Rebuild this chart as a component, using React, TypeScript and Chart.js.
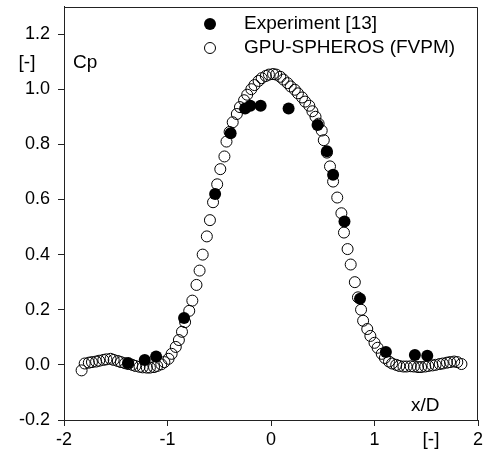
import React, { useEffect, useRef } from "react";
import { Chart, registerables } from "chart.js";

Chart.register(...registerables);

// Experiment [13]
const expX = [-1.38, -1.22, -1.11, -0.84, -0.54, -0.39, -0.25, -0.2, -0.1, 0.17, 0.45, 0.54, 0.6, 0.71, 0.86, 1.11, 1.39, 1.51];
const expY = [0.007, 0.018, 0.03, 0.17, 0.62, 0.84, 0.93, 0.94, 0.94, 0.93, 0.87, 0.775, 0.69, 0.52, 0.24, 0.047, 0.036, 0.033];

// GPU-SPHEROS (FVPM)
const simX = [
  -1.83, -1.8, -1.76, -1.73, -1.69, -1.66, -1.62, -1.59, -1.55, -1.52,
  -1.48, -1.45, -1.41, -1.38, -1.34, -1.31, -1.27, -1.24, -1.2, -1.17,
  -1.13, -1.1, -1.06, -1.03, -0.99, -0.96, -0.92, -0.89, -0.86, -0.83,
  -0.79, -0.76, -0.72, -0.69, -0.66, -0.62, -0.59, -0.56, -0.52, -0.49,
  -0.45, -0.43, -0.4, -0.37, -0.33, -0.3, -0.26, -0.23, -0.19, -0.16,
  -0.12, -0.09, -0.05, -0.02, 0.02, 0.05, 0.09, 0.12, 0.16, 0.19,
  0.23, 0.26, 0.3, 0.33, 0.37, 0.4, 0.43, 0.46, 0.49, 0.51,
  0.54, 0.57, 0.6, 0.64, 0.68, 0.705, 0.74, 0.77, 0.81, 0.84,
  0.87, 0.89, 0.93, 0.96, 1.0, 1.03, 1.07, 1.1, 1.14, 1.17,
  1.21, 1.24, 1.28, 1.31, 1.35, 1.38, 1.42, 1.45, 1.49, 1.52,
  1.56, 1.59, 1.63, 1.66, 1.7, 1.73, 1.77, 1.8, 1.84
];
const simY = [
  -0.02, 0.005, 0.008, 0.01, 0.012, 0.015, 0.018, 0.02, 0.022, 0.018,
  0.014, 0.01, 0.006, 0.003, 0.0, -0.004, -0.007, -0.009, -0.01, -0.01,
  -0.008, -0.004, 0.002, 0.01, 0.022, 0.04, 0.065, 0.09, 0.12, 0.155,
  0.196, 0.233, 0.29, 0.342, 0.4, 0.466, 0.525, 0.59, 0.655, 0.71,
  0.756, 0.81, 0.845, 0.88, 0.91, 0.935, 0.96, 0.98, 1.0, 1.015,
  1.03, 1.04, 1.048, 1.053, 1.055, 1.053, 1.045, 1.035, 1.022, 1.01,
  0.998, 0.985, 0.97, 0.955, 0.94, 0.92, 0.9, 0.875, 0.85, 0.815,
  0.77, 0.72, 0.665, 0.607, 0.55, 0.48, 0.42, 0.364, 0.3, 0.245,
  0.2, 0.16, 0.13, 0.105, 0.08, 0.062, 0.04, 0.025, 0.012, 0.005,
  0.0, -0.004, -0.006, -0.006, -0.005, -0.006, -0.008, -0.008, -0.006, -0.004,
  -0.002, 0.0, 0.003, 0.005, 0.008, 0.01, 0.012, 0.01, 0.003
];

const xTicks = [-2, -1, 0, 1, 2];
const yTicks = [-0.2, 0.0, 0.2, 0.4, 0.6, 0.8, 1.0, 1.2];
const legendLabels = ["Experiment [13]", "GPU-SPHEROS (FVPM)"];

const FONT = "'Liberation Sans', Arial, sans-serif";
const FS = 18;

const overlay = {
  id: "overlay",
  afterDraw(chart: any) {
    const ctx = chart.ctx;
    const { left, top, right, bottom } = chart.chartArea;
    ctx.save();
    ctx.strokeStyle = "#222";
    ctx.lineWidth = 1;
    ctx.beginPath();
    ctx.moveTo(Math.round(left) + 0.5, Math.round(top) + 0.5);
    ctx.lineTo(Math.round(right) - 0.5, Math.round(top) + 0.5);
    ctx.lineTo(Math.round(right) - 0.5, Math.round(bottom) + 0.5);
    ctx.stroke();

    ctx.fillStyle = "#000";
    ctx.font = `19px ${FONT}`;
    ctx.textBaseline = "middle";
    ctx.textAlign = "left";
    // legend
    const lx = 210;
    const ly = [24, 48];
    ctx.beginPath();
    ctx.arc(lx, ly[0], 6, 0, Math.PI * 2);
    ctx.fill();
    ctx.beginPath();
    ctx.arc(lx, ly[1], 5.5, 0, Math.PI * 2);
    ctx.strokeStyle = "#000";
    ctx.stroke();
    ctx.fillText(legendLabels[0], 244, ly[0]);
    ctx.fillText(legendLabels[1], 244, ly[1]);

    // axis annotations
    ctx.fillText("Cp", 73, 63);
    ctx.fillText("x/D", 411, 406);
    ctx.textAlign = "center";
    ctx.fillText("[-]", 27, 63);
    ctx.fillText("[-]", 431, 440);
    ctx.restore();
  },
};

export default function App() {
  const ref = useRef<HTMLCanvasElement | null>(null);
  useEffect(() => {
    if (!ref.current) return;
    const chart = new Chart(ref.current, {
      type: "scatter",
      data: {
        datasets: [
          {
            label: legendLabels[0],
            data: expX.map((x, i) => ({ x, y: expY[i] })),
            backgroundColor: "#000",
            borderColor: "#000",
            pointRadius: 6,
            pointBorderWidth: 0,
          },
          {
            label: legendLabels[1],
            data: simX.map((x, i) => ({ x, y: simY[i] })),
            backgroundColor: "rgba(255,255,255,0)",
            borderColor: "#000",
            pointRadius: 5.5,
            pointBorderWidth: 1,
          },
        ],
      },
      options: {
        animation: false,
        responsive: false,
        layout: { padding: { top: 6, right: 7, left: 0, bottom: 0 } },
        plugins: { legend: { display: false }, tooltip: { enabled: false } },
        scales: {
          x: {
            type: "linear",
            min: -2,
            max: 2,
            afterFit: (s: any) => { s.height = 39; s.paddingLeft = 0; s.paddingRight = 0; },
            afterBuildTicks: (s: any) => { s.ticks = xTicks.map((v) => ({ value: v })); },
            grid: { drawOnChartArea: false, drawTicks: true, tickLength: 6, color: "#222" },
            border: { display: true, color: "#222" },
            ticks: {
              color: "#000",
              font: { family: FONT, size: FS },
              padding: 3,
              maxRotation: 0,
              callback: (v: any) => String(v),
            },
          },
          y: {
            type: "linear",
            min: -0.2,
            max: 1.3,
            afterFit: (s: any) => { s.width = 64; s.paddingTop = 0; s.paddingBottom = 0; },
            afterBuildTicks: (s: any) => { s.ticks = yTicks.map((v) => ({ value: v })); },
            grid: { drawOnChartArea: false, drawTicks: true, tickLength: 6, color: "#222" },
            border: { display: true, color: "#222" },
            ticks: {
              color: "#000",
              font: { family: FONT, size: FS },
              padding: 8,
              callback: (v: any) => Number(v).toFixed(1),
            },
          },
        },
      },
      plugins: [overlay],
    });
    return () => chart.destroy();
  }, []);
  return (
    <div style={{ position: "absolute", left: 0, top: 0, width: 485, height: 459, background: "#fff" }}>
      <canvas ref={ref} width={485} height={459} style={{ width: 485, height: 459 }} />
    </div>
  );
}
